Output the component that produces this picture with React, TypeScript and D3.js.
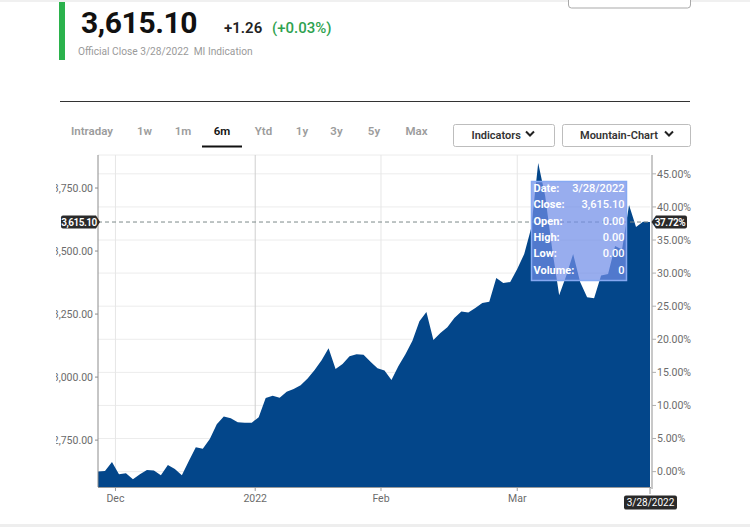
import React from 'react';
import * as d3 from 'd3';

// ---- data ----
const closes: number[] = [
  2625, 2627, 2663, 2615, 2619, 2595, 2615, 2631, 2629, 2611,
  2651, 2635, 2611, 2667, 2722, 2716, 2754, 2813, 2844, 2837,
  2821, 2819, 2819, 2841, 2917, 2926, 2918, 2942, 2953, 2968,
  2994, 3028, 3067, 3114, 3032, 3052, 3083, 3091, 3089, 3061,
  3035, 3026, 2988, 3044, 3091, 3144, 3222, 3258, 3147, 3175,
  3198, 3234, 3260, 3256, 3274, 3294, 3299, 3393, 3373, 3377,
  3429, 3488, 3591, 3849, 3718, 3508, 3325, 3401, 3488, 3377,
  3317, 3313, 3403, 3409, 3520, 3506, 3683, 3595, 3616, 3615.1,
];
const lastCloseText = '3,615.10';
const changeText = '+1.26';
const changePctText = '(+0.03%)';
const subtitleText = 'Official Close 3/28/2022\u00a0\u00a0MI Indication';
const lastPctText = '37.72%';
const lastDateText = '3/28/2022';
const priceTicks = [2750, 3000, 3250, 3500, 3750];
const pctTicks = [0, 5, 10, 15, 20, 25, 30, 35, 40, 45];
const monthLabels = ['Dec', '2022', 'Feb', 'Mar'];
const monthIndex = [2.5, 22.5, 40.5, 60];
const tabs = ['Intraday', '1w', '1m', '6m', 'Ytd', '1y', '3y', '5y', 'Max'];
const activeTab = '6m';
const tooltipLabels = ['Date:', 'Close:', 'Open:', 'High:', 'Low:', 'Volume:'];
const tooltipValues = ['3/28/2022', '3,615.10', '0.00', '0.00', '0.00', '0'];

// ---- layout ----
const W = 750;
const H = 527;
const plot = { left: 98, right: 650, top: 155, bottom: 487 };
const tabCenters = [92, 144.5, 183, 222, 263.5, 302, 336.5, 374, 416.5];
const FONT = 'Roboto, "Open Sans", sans-serif';
const AREA = '#03468a';
const GRID = '#ececec';
const AXIS_TEXT = '#6b6b6b';

export default function App() {
  const base = closes[0];
  const last = closes[closes.length - 1];
  const x = d3.scaleLinear().domain([0, closes.length - 1]).range([plot.left, plot.right]);
  const y = d3.scaleLinear().domain([2564, 3881]).range([plot.bottom, plot.top]);
  const yPct = d3
    .scaleLinear()
    .domain(y.domain().map((p) => (p / base - 1) * 100))
    .range(y.range());
  const fmtPrice = d3.format(',.2f');
  const fmtPct = (v: number) => d3.format('.2f')(v) + '%';

  const area = d3
    .area<number>()
    .x((_, i) => x(i))
    .y0(plot.bottom)
    .y1((d) => y(d));

  const yLast = y(last);

  // tooltip
  const tt = { x: 531, y: 181, w: 95, h: 99 };

  return (
    <svg
      width={W}
      height={H}
      style={{ position: 'absolute', left: 0, top: 0, background: '#fff' }}
      fontFamily={FONT}
    >
      <defs>
        <clipPath id="leftLabels">
          <rect x={56} y={0} width={W} height={H} />
        </clipPath>
      </defs>
      <rect x={0} y={0} width={W} height={H} fill="#fff" />
      {/* top strip and partial button */}
      <rect x={0} y={0} width={W} height={2} fill="#f0f0f0" />
      <rect x={568.5} y={-20} width={122} height={28} rx={3} fill="#fff" stroke="#a9a9a9" strokeWidth={1} />
      <rect x={0} y={524} width={W} height={3} fill="#eeeeee" />

      {/* header */}
      <rect x={59} y={2} width={6} height={58} fill="#2bb24c" />
      <text x={81} y={33} fontSize={30} fontWeight={700} fill="#111" letterSpacing={-0.4}>
        {lastCloseText}
      </text>
      <text x={224} y={33} fontSize={15} fontWeight={600} fill="#222">
        {changeText}
      </text>
      <text x={272} y={33} fontSize={15} fontWeight={500} fill="#2ea24f">
        {changePctText}
      </text>
      <text x={78} y={55} fontSize={10.2} fill="#9a9a9a">
        {subtitleText}
      </text>
      <line x1={60} x2={690} y1={101.5} y2={101.5} stroke="#333" strokeWidth={1} />

      {/* tabs */}
      {tabs.map((t, i) => (
        <text
          key={t}
          x={tabCenters[i]}
          y={135}
          textAnchor="middle"
          fontSize={11.5}
          fontWeight={600}
          fill={t === activeTab ? '#111' : '#9c9c9c'}
        >
          {t}
        </text>
      ))}
      <rect x={202} y={145.5} width={40} height={2} fill="#111" />

      {/* buttons */}
      <rect x={453.5} y={124.5} width={101} height={22} rx={2} fill="#fff" stroke="#bdbdbd" />
      <text x={471.5} y={139} fontSize={11} fontWeight={600} fill="#333">Indicators</text>
      <path d="M526,131.5 L530,135.5 L534,131.5" fill="none" stroke="#222" strokeWidth={2} />
      <rect x={562.5} y={124.5} width={128} height={22} rx={2} fill="#fff" stroke="#bdbdbd" />
      <text x={580} y={139} fontSize={11} fontWeight={600} fill="#333">Mountain-Chart</text>
      <path d="M665,131.5 L669,135.5 L673,131.5" fill="none" stroke="#222" strokeWidth={2} />

      {/* grid */}
      <line x1={plot.left} x2={plot.right} y1={plot.top} y2={plot.top} stroke={GRID} />
      {pctTicks.map((p) => (
        <line key={p} x1={plot.left} x2={plot.right} y1={yPct(p)} y2={yPct(p)} stroke={GRID} />
      ))}
      {monthIndex.map((m, i) => (
        <line
          key={monthLabels[i]}
          x1={x(m)}
          x2={x(m)}
          y1={plot.top}
          y2={plot.bottom}
          stroke={monthLabels[i] === '2022' ? '#cfcfcf' : '#e6e6e6'}
        />
      ))}

      {/* mountain */}
      <path d={area(closes) ?? ''} fill={AREA} />

      {/* last price dashed line */}
      <line
        x1={plot.left}
        x2={plot.right + 2}
        y1={yLast}
        y2={yLast}
        stroke="#7d8a8a"
        strokeDasharray="4,3"
        strokeWidth={1}
      />

      {/* axes */}
      <line x1={plot.left} x2={plot.left} y1={plot.top} y2={plot.bottom} stroke="#8c8c8c" />
      <line x1={plot.left} x2={plot.right + 2} y1={plot.bottom + 0.5} y2={plot.bottom + 0.5} stroke="#9a9a9a" />
      <line x1={plot.right + 2} x2={plot.right + 2} y1={plot.top} y2={plot.bottom + 2} stroke="#c8c8c8" strokeWidth={2} />

      <g clipPath="url(#leftLabels)">
        {priceTicks.map((p) => (
          <g key={p}>
            <line x1={plot.left - 3} x2={plot.left} y1={y(p)} y2={y(p)} stroke="#8c8c8c" />
            <text x={plot.left - 5} y={y(p)} dy="0.35em" textAnchor="end" fontSize={10.5} fill={AXIS_TEXT}>
              {fmtPrice(p)}
            </text>
          </g>
        ))}
      </g>
      {pctTicks.map((p) => (
        <g key={p}>
          <line x1={plot.right + 2} x2={plot.right + 6} y1={yPct(p)} y2={yPct(p)} stroke="#b0b0b0" />
          <text x={plot.right + 7} y={yPct(p)} dy="0.35em" fontSize={10.5} fill={AXIS_TEXT}>
            {fmtPct(p)}
          </text>
        </g>
      ))}
      {monthIndex.map((m, i) => (
        <g key={monthLabels[i]}>
          <line x1={x(m)} x2={x(m)} y1={plot.bottom} y2={plot.bottom + 4} stroke="#9a9a9a" />
          <text x={x(m)} y={502} textAnchor="middle" fontSize={10.5} fill={AXIS_TEXT}>
            {monthLabels[i]}
          </text>
        </g>
      ))}
      <line x1={plot.right} x2={plot.right} y1={plot.bottom} y2={plot.bottom + 7} stroke="#9a9a9a" />

      {/* last value flags */}
      <path
        d={`M63,${yLast - 6.5} H96 L100,${yLast} L96,${yLast + 6.5} H63 Q61,${yLast + 6.5} 61,${yLast + 4.5} V${yLast - 4.5} Q61,${yLast - 6.5} 63,${yLast - 6.5} Z`}
        fill="#2a2a2a"
      />
      <text x={79} y={yLast} dy="0.35em" textAnchor="middle" fontSize={10} fontWeight={600} fill="#fff" letterSpacing={-0.5}>
        {lastCloseText}
      </text>
      <path
        d={`M656,${yLast - 6.5} H685 Q687,${yLast - 6.5} 687,${yLast - 4.5} V${yLast + 4.5} Q687,${yLast + 6.5} 685,${yLast + 6.5} H656 L651.5,${yLast} Z`}
        fill="#2a2a2a"
      />
      <text x={670} y={yLast} dy="0.35em" textAnchor="middle" fontSize={10} fontWeight={600} fill="#fff" letterSpacing={-0.4}>
        {lastPctText}
      </text>
      <rect x={624} y={495.5} width={53} height={14} rx={2} fill="#2a2a2a" />
      <text x={650.5} y={502.5} dy="0.35em" textAnchor="middle" fontSize={10} fill="#fff">
        {lastDateText}
      </text>

      {/* tooltip */}
      <rect
        x={tt.x + 0.5}
        y={tt.y + 0.5}
        width={tt.w}
        height={tt.h}
        fill="rgb(112,142,232)"
        fillOpacity={0.72}
        stroke="#86a9f2"
        strokeWidth={1.5}
      />
      {tooltipLabels.map((l, i) => (
        <g key={l}>
          <text x={tt.x + 2.5} y={tt.y + 11 + i * 16.3} fontSize={11} fontWeight={700} fill="#fff">
            {l}
          </text>
          <text x={tt.x + tt.w - 1.5} y={tt.y + 11 + i * 16.3} textAnchor="end" fontSize={11} fontWeight={500} fill="#fff">
            {tooltipValues[i]}
          </text>
        </g>
      ))}
    </svg>
  );
}
